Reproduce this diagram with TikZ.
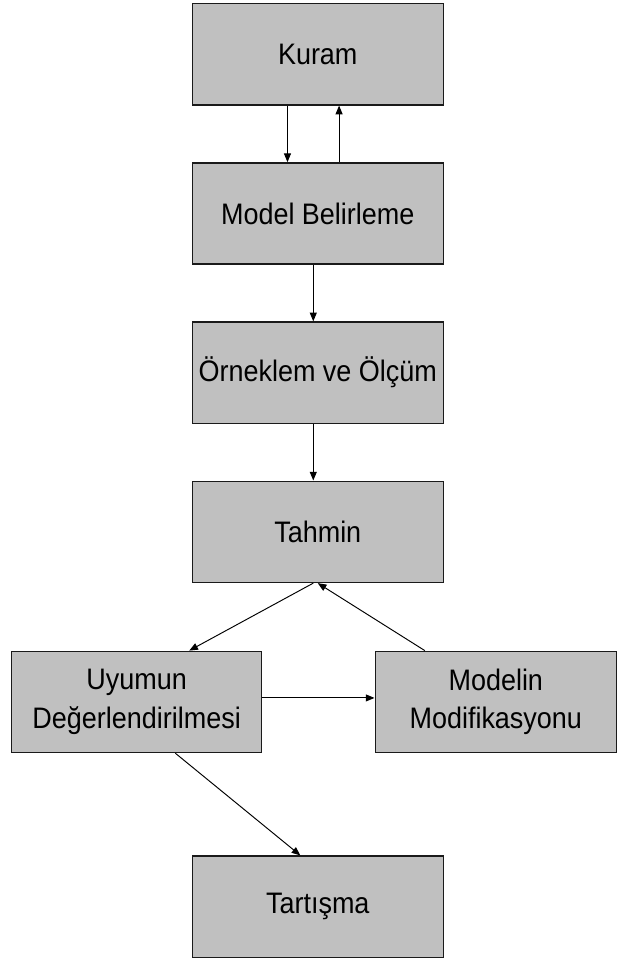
\documentclass[tikz,border=0pt]{standalone}
\usepackage{fontspec}
\setmainfont[FakeStretch=0.91]{Liberation Sans}
\definecolor{boxGray}{HTML}{C0C0C0}
\definecolor{lineDark}{HTML}{1A1A1A}
\usetikzlibrary{arrows.meta,positioning}

\begin{document}
\begin{tikzpicture}[
  box/.style={draw=lineDark,fill=boxGray,line width=0.8pt,
              minimum width=5.06cm,minimum height=2.04cm,
              font=\fontsize{17}{22}\selectfont,align=center,inner sep=0pt},
  arr/.style={-{Triangle[length=5pt,width=4pt]},black,line width=0.55pt},
  node distance=1.14cm and 2.26cm
]
  % ── Main column ───────────────────────────────────────────────────────────
  \node[box] (kuram) {Kuram};
  \node[box,below=of kuram]   (model)  {Model Belirleme};
  \node[box,below=of model]   (orn)    {Örneklem ve Ölçüm};
  \node[box,below=of orn]     (tahmin) {Tahmin};

  \draw[arr] ([xshift=-0.61cm]kuram.south) -- ([xshift=-0.61cm]model.north);
  \draw[arr] ([xshift=0.43cm]model.north) -- ([xshift=0.43cm]kuram.south);
  \draw[arr] ([xshift=-0.09cm]model.south) -- ([xshift=-0.09cm]orn.north);
  \draw[arr] ([xshift=-0.09cm]orn.south) -- ([xshift=-0.09cm]tahmin.north);

  % ── Fit / modification loop ───────────────────────────────────────────────
  \node[box,minimum width=5.04cm,below=1.36cm of tahmin,xshift=-3.65cm] (uyum)
       {Uyumun\\Değerlendirilmesi};
  \node[box,minimum width=4.86cm,right=of uyum] (modif) {Modelin\\Modifikasyonu};
  \node[box,below=2.06cm of uyum,xshift=3.65cm] (tart) {Tartışma};

  \draw[arr] ([xshift=-0.09cm]tahmin.south) -- ([xshift=1.06cm]uyum.north);
  \draw[arr] ([xshift=-1.43cm]modif.north) -- (tahmin.south);
  \draw[arr] ([yshift=0.08cm]uyum.east) -- ([yshift=0.08cm]modif.west);
  \draw[arr] ([xshift=0.78cm]uyum.south) -- ([xshift=-0.35cm]tart.north);

  \useasboundingbox ([xshift=-0.22cm,yshift=0.06cm]uyum.west |- kuram.north)
    rectangle ([yshift=-0.1cm]modif.east |- tart.south);
\end{tikzpicture}
\end{document}
